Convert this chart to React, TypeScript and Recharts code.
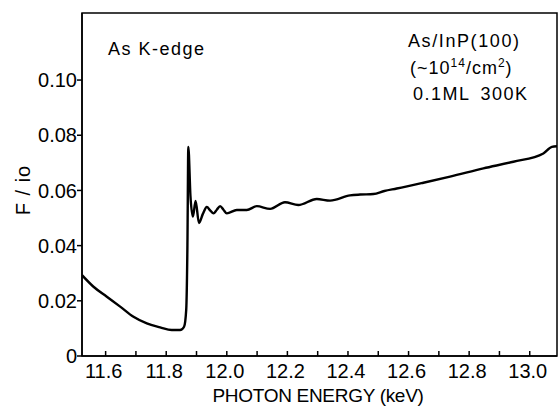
import { LineChart, Line, XAxis, YAxis, ReferenceArea } from 'recharts';

// photon energy (keV) and fluorescence ratio F/io
const energy = [
  11.522, 11.56, 11.604, 11.648, 11.692, 11.736, 11.78, 11.818, 11.846, 11.859,
  11.866, 11.87, 11.873, 11.88, 11.888, 11.897, 11.908, 11.921, 11.934, 11.945,
  11.956, 11.967, 11.978, 11.989, 12.0, 12.033, 12.066, 12.099, 12.143, 12.192,
  12.236, 12.297, 12.341, 12.407, 12.44, 12.484, 12.52, 12.561, 12.649, 12.737,
  12.847, 12.946, 13.045, 13.073, 13.09,
];
const fluorescence = [
  0.0293, 0.0251, 0.0215, 0.0179, 0.0142, 0.0118, 0.0104, 0.0094, 0.0094, 0.0106,
  0.0167, 0.04, 0.0758, 0.058, 0.0505, 0.0562, 0.0482, 0.0515, 0.054, 0.0528,
  0.0517, 0.053, 0.0543, 0.053, 0.0517, 0.0529, 0.0529, 0.0543, 0.0533, 0.0557,
  0.0547, 0.0569, 0.0563, 0.0582, 0.0585, 0.0587, 0.0598, 0.0607, 0.0628, 0.065,
  0.068, 0.0704, 0.0734, 0.0758, 0.076,
];

const xTicks = [11.6, 11.7, 11.8, 11.9, 12.0, 12.1, 12.2, 12.3, 12.4, 12.5, 12.6, 12.7, 12.8, 12.9, 13.0];
const yTicks = [0, 0.02, 0.04, 0.06, 0.08, 0.1];
const xDomain = [11.522, 13.09];
const yDomain = [0, 0.1243];

const FONT = '"Liberation Sans", Arial, sans-serif';

const data = energy.map((e, i) => ({ e, f: fluorescence[i] }));

function XTick(props: any) {
  const { x, y, payload } = props;
  const labelled = Math.round(payload.value * 10) % 2 === 0;
  return (
    <g>
      <line x1={x} y1={y} x2={x} y2={y - 5} stroke="#000" strokeWidth={1.5} />
      {labelled && (
        <text x={x - 2} y={y + 22} textAnchor="middle" fontFamily={FONT} fontSize={20} fill="#000">
          {payload.value.toFixed(1)}
        </text>
      )}
    </g>
  );
}

export default function App() {
  return (
    <div style={{ position: 'absolute', left: 0, top: 0, width: 560, height: 412, background: '#fff' }}>
      <LineChart width={560} height={412} data={data} margin={{ top: 13, right: 3, bottom: 0, left: 22 }}>
        <XAxis
          dataKey="e"
          type="number"
          domain={xDomain}
          allowDataOverflow
          ticks={xTicks}
          interval={0}
          height={56}
          tickSize={0}
          tickMargin={0}
          tickLine={false}
          tick={<XTick />}
          axisLine={{ stroke: '#000', strokeWidth: 1.5 }}
        />
        <YAxis
          type="number"
          domain={yDomain}
          allowDataOverflow
          ticks={yTicks}
          interval={0}
          width={60}
          tickSize={5}
          tickMargin={0}
          tickLine={{ stroke: '#000', strokeWidth: 1.5 }}
          tick={{ fill: '#000', fontFamily: FONT, fontSize: 20 }}
          tickFormatter={(v: number) => (v === 0 ? '0' : v.toFixed(2))}
          axisLine={{ stroke: '#000', strokeWidth: 1.5 }}
        />
        {/* closes the frame on top and right */}
        <ReferenceArea
          x1={xDomain[0]}
          x2={xDomain[1]}
          y1={yDomain[0]}
          y2={yDomain[1]}
          fill="none"
          fillOpacity={0}
          stroke="#000"
          strokeWidth={1.5}
        />
        <Line
          type="monotone"
          dataKey="f"
          stroke="#000"
          strokeWidth={2.4}
          dot={false}
          isAnimationActive={false}
        />
      </LineChart>
      <svg width={560} height={412} style={{ position: 'absolute', left: 0, top: 0, pointerEvents: 'none' }}>
        <text x={318} y={402} textAnchor="middle" fontFamily={FONT} fontSize={19} letterSpacing={-0.3} fill="#000">
          PHOTON ENERGY (keV)
        </text>
        <text x={30} y={190} transform="rotate(-90 30 190)" textAnchor="middle" fontFamily={FONT} fontSize={20} letterSpacing={1} fill="#000">
          F / io
        </text>
        <text x={108} y={55} fontFamily={FONT} fontSize={18} letterSpacing={1.5} fill="#000">
          As K-edge
        </text>
        <text x={408} y={47} fontFamily={FONT} fontSize={18} letterSpacing={1.6} fill="#000">
          As/InP(100)
        </text>
        <text x={410} y={74} fontFamily={FONT} fontSize={18} letterSpacing={1} fill="#000">
          (~10<tspan dy={-7} fontSize={12}>14</tspan>
          <tspan dy={7}>/cm</tspan>
          <tspan dy={-7} fontSize={12}>2</tspan>
          <tspan dy={7}>)</tspan>
        </text>
        <text x={413} y={100} fontFamily={FONT} fontSize={18} letterSpacing={1.5} fill="#000">
          0.1ML<tspan dx={10}>300K</tspan>
        </text>
      </svg>
    </div>
  );
}
